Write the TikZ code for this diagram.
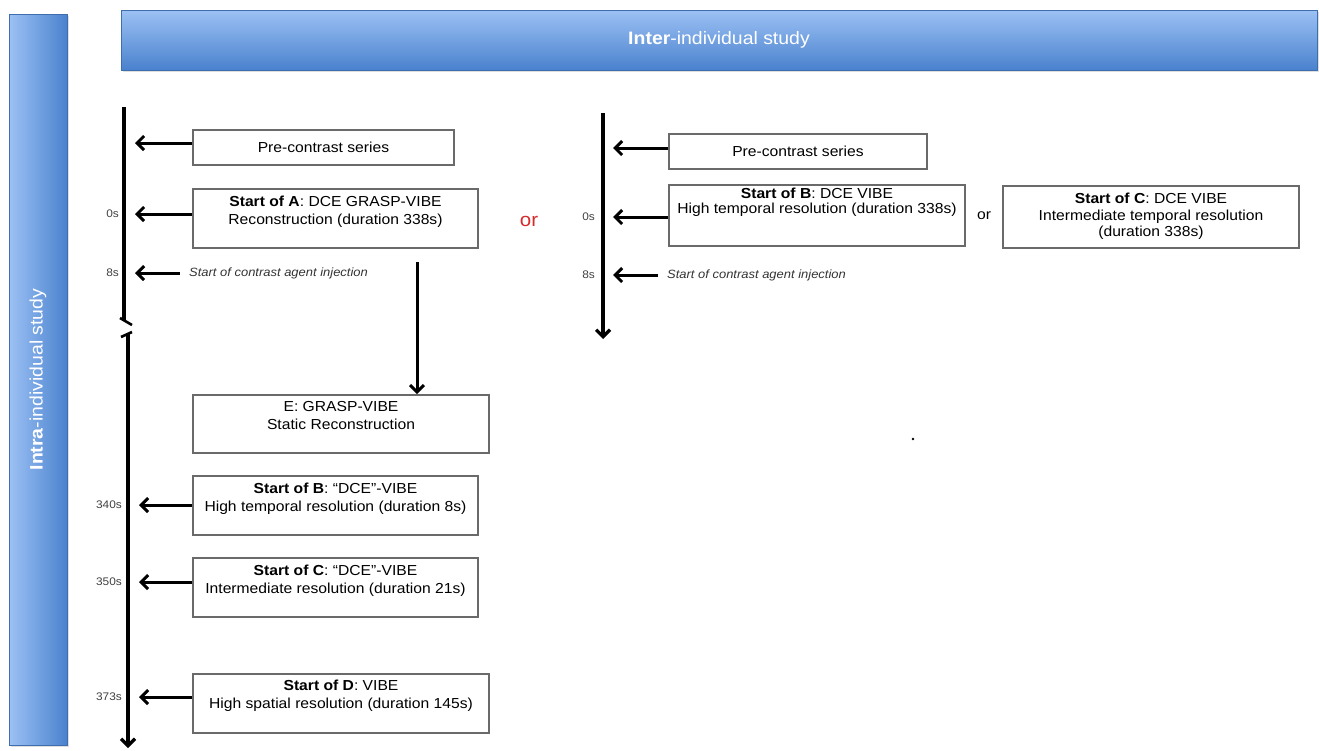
\documentclass[tikz,border=0pt]{standalone}
\usepackage{fontspec}
\setmainfont{Liberation Sans}[FakeStretch=1.08]
\usetikzlibrary{arrows.meta,shadows}

\definecolor{bannerlight}{HTML}{9CC1F4}
\definecolor{bannerdark}{HTML}{4A82CE}
\definecolor{boxline}{HTML}{6A6A6A}
\definecolor{orred}{HTML}{D42A2A}

\tikzset{
  banner/.style={draw=bannerdark!85!black, line width=0.6pt, text=white, font=\fontsize{18}{22}\selectfont,
    drop shadow={opacity=0.25, shadow xshift=1.5pt, shadow yshift=-1.5pt}},
  seqbox/.style={draw=boxline, line width=1.6pt, inner sep=0pt},
  boxtext/.style={align=center, inner sep=0pt, font=\fontsize{14.5}{18}\selectfont},
  timeline/.style={line width=3.2pt},
  breaktick/.style={line width=2.6pt},
  arr/.style={line width=3pt, -{Straight Barb[length=7pt,width=14pt]}},
  tlabel/.style={anchor=east, inner sep=1pt, text=black!75, font=\fontsize{11}{13}\selectfont},
  note/.style={anchor=west, inner sep=0pt, text=black!80, font=\fontsize{12}{14}\selectfont\itshape}
}

\begin{document}
\begin{tikzpicture}[x=1pt, y=-1pt]
\useasboundingbox (0,0) rectangle (1319,750);

% banners
\node[banner, top color=bannerlight, bottom color=bannerdark, minimum width=1196, minimum height=60] (inter) at (719,40) {\textbf{Inter}-individual study};
\node[banner, left color=bannerlight, right color=bannerdark, rotate=90, minimum width=731, minimum height=58] (intra) at (38,379.5) {\textbf{Intra}-individual study};

% left timeline (protocol A)
\coordinate (lTop) at (124,107);
\coordinate (lBreak1) at (124,321);
\coordinate (lBreak2) at (128,334);
\coordinate (lEnd) at (128,748);
\path[timeline] (lTop) edge (lBreak1);
\path[timeline, -{Straight Barb[length=7pt,width=14pt]}] (lBreak2) edge (lEnd);
\draw[breaktick] (120,318) -- (132,325);
\draw[breaktick] (121,337) -- (132,332);

\node[seqbox, minimum width=261, minimum height=35] (preA) at (323.5,147.5) {};
\node[boxtext] at (preA) {Pre-contrast series};
\node[seqbox, minimum width=285, minimum height=59, label={[boxtext, anchor=north, yshift=-8pt]north:{\textbf{Start of A}: DCE GRASP-VIBE\\Reconstruction (duration 338s)}}] (startA) at (335.5,218.5) {};
\node[note] (injA) at (189,273) {Start of contrast agent injection};
\node[seqbox, minimum width=296, minimum height=58, label={[boxtext, anchor=north, yshift=-7pt]north:{E: GRASP-VIBE\\Static Reconstruction}}] (recE) at (341,424) {};
\node[seqbox, minimum width=285, minimum height=59, label={[boxtext, anchor=north, yshift=-8pt]north:{\textbf{Start of B}: ``DCE''-VIBE\\High temporal resolution (duration 8s)}}] (startB2) at (335.5,505.5) {};
\node[seqbox, minimum width=285, minimum height=59, label={[boxtext, anchor=north, yshift=-8pt]north:{\textbf{Start of C}: ``DCE''-VIBE\\Intermediate resolution (duration 21s)}}] (startC2) at (335.5,587.5) {};
\node[seqbox, minimum width=296, minimum height=59, label={[boxtext, anchor=north, yshift=-7pt]north:{\textbf{Start of D}: VIBE\\High spatial resolution (duration 145s)}}] (startD) at (341,703.5) {};

\coordinate (aPre) at (135,143);
\coordinate (a0) at (135,214);
\coordinate (a8) at (135,273);
\coordinate (a340) at (139,505);
\coordinate (a350) at (139,582);
\coordinate (a373) at (139,697);
\path[arr] (preA.west |- aPre) edge (aPre);
\path[arr] (startA.west |- a0) edge (a0);
\path[arr] (injA.west) ++(-9,0) edge (a8);
\path[arr] (startB2.west |- a340) edge (a340);
\path[arr] (startC2.west |- a350) edge (a350);
\path[arr] (startD.west |- a373) edge (a373);

\node[tlabel] (l0) at (120,214) {0s};
\node[tlabel] (l8) at (120,273) {8s};
\node[tlabel] (l340) at (123,505) {340s};
\node[tlabel] (l350) at (123,582) {350s};
\node[tlabel] (l373) at (123,697) {373s};

\coordinate (eStart) at (417,262);
\path[arr] (eStart) edge (eStart |- recE.north);

\node[text=orred, font=\fontsize{19}{22}\selectfont] (orA) at (529,221) {or};

% right timeline (protocols B or C)
\coordinate (rTop) at (603,113);
\coordinate (rEnd) at (603,339);
\path[timeline, -{Straight Barb[length=7pt,width=14pt]}] (rTop) edge (rEnd);

\node[seqbox, minimum width=258, minimum height=35] (preB) at (798,151.5) {};
\node[boxtext] at (preB) {Pre-contrast series};
\node[seqbox, minimum width=296, minimum height=61, label={[boxtext, anchor=north, yshift=-4pt, font=\fontsize{14.5}{15}\selectfont]north:{\textbf{Start of B}: DCE VIBE\\High temporal resolution (duration 338s)}}] (startB) at (817,215.5) {};
\node[boxtext] (orB) at (984,216) {or};
\node[seqbox, minimum width=296, minimum height=62, label={[boxtext, anchor=north, yshift=-8pt, font=\fontsize{14.5}{16.5}\selectfont]north:{\textbf{Start of C}: DCE VIBE\\Intermediate temporal resolution\\(duration 338s)}}] (startC) at (1151,217) {};
\node[note] (injB) at (667,275) {Start of contrast agent injection};

\coordinate (bPre) at (613,148);
\coordinate (b0) at (613,217);
\coordinate (b8) at (613,275);
\path[arr] (preB.west |- bPre) edge (bPre);
\path[arr] (startB.west |- b0) edge (b0);
\path[arr] (injB.west) ++(-9,0) edge (b8);

\node[tlabel] (r0) at (596,217) {0s};
\node[tlabel] (r8) at (596,275) {8s};

\fill (913,439) circle (1.3);
\end{tikzpicture}
\end{document}
